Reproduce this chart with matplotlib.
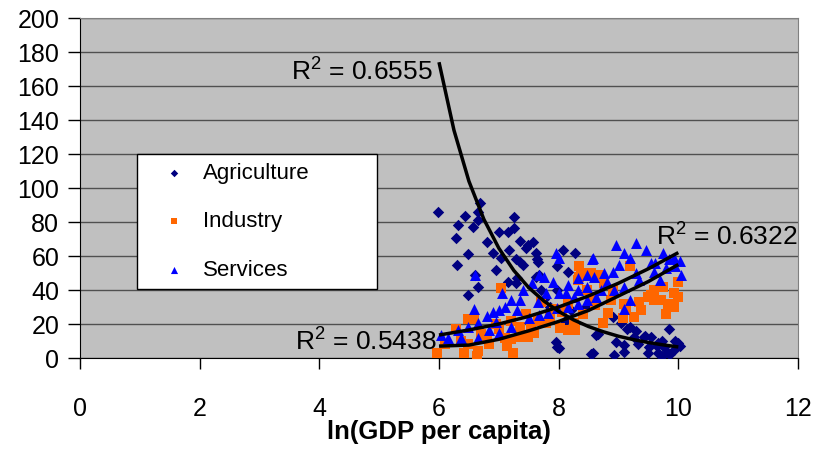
"""
plot.py
Sector shares vs ln(GDP per capita) scatter with trendlines.
Writes out.png (819x450).
"""

import matplotlib

matplotlib.use("Agg")
import matplotlib.pyplot as plt

plt.rcParams["font.family"] = ["Liberation Sans", "DejaVu Sans"]
plt.rcParams["mathtext.fontset"] = "custom"
plt.rcParams["mathtext.rm"] = "Liberation Sans"
plt.rcParams["mathtext.default"] = "regular"

# ---- data ----
agri_x = [5.99, 6.44, 6.31, 6.56, 6.28, 6.49, 6.69, 6.66, 6.66, 6.61, 6.66, 6.81,
          6.90, 7.00, 7.15, 7.03, 7.17, 7.25, 7.36, 7.26, 7.48, 7.57, 7.62, 7.65,
          7.67, 7.36, 7.15, 7.28, 7.45, 7.40, 7.28, 7.63, 7.62, 8.08, 8.28, 7.98,
          8.15, 7.98, 7.95, 7.98, 8.57, 8.92, 9.09, 8.62, 8.90, 9.04, 9.20, 9.26,
          9.42, 9.54, 9.51, 9.84, 9.66, 9.76, 9.92, 9.82, 9.99, 9.66, 9.09, 8.95,
          9.15, 9.30, 9.44, 9.72, 9.94, 8.65, 9.49, 9.72, 9.86, 10.03, 9.64, 9.32,
          8.54, 8.00, 7.31, 7.75, 7.85, 8.20, 8.45, 8.10, 7.70, 6.49, 6.95, 6.30]
agri_y = [86, 83.5, 78, 77, 70.6, 61, 91, 86, 81, 49, 42, 68,
          62, 74, 74, 59, 63.5, 83, 69, 76.5, 66.5, 68, 62, 56.5,
          49, 56.5, 44.7, 44, 65, 55, 58, 58, 47.6, 63.5, 62, 54,
          50.6, 40, 9.4, 6.5, 2.9, 1.8, 3.5, 13.5, 24, 20.6, 18.2, 12.4,
          12.4, 12.4, 6.5, 17, 8.8, 6.5, 4.7, 2.9, 8.8, 2.9, 7.6, 9.4,
          17, 16, 13, 10, 10, 14, 2.9, 1.2, 2.3, 7, 7, 8.2,
          2.3, 5.9, 47, 35, 30, 28, 30, 22, 40, 37, 52, 55]

ind_x = [7.03, 6.48, 6.59, 6.28, 5.97, 6.41, 6.64, 6.66, 6.83, 7.13, 7.11, 7.00,
         7.21, 7.23, 6.36, 6.49, 6.80, 8.34, 8.03, 8.15, 8.28, 8.74, 8.82, 9.07,
         9.26, 9.37, 9.49, 9.59, 9.71, 9.82, 9.92, 9.74, 9.92, 10.00, 9.54, 9.34,
         8.87, 8.59, 8.48, 8.32, 8.54, 8.65, 8.75, 8.37, 8.15, 7.92, 7.78, 7.65,
         7.53, 7.36, 7.33, 7.48, 7.58, 8.25, 9.12, 9.09, 9.20, 8.69, 8.34, 7.85,
         8.05, 8.40, 8.60, 7.45, 7.20, 6.95, 7.70, 8.90, 9.60, 10.00, 9.80, 6.10, 6.70]
ind_y = [41, 23, 23, 17, 2.9, 2.9, 1.2, 4.1, 8.2, 7, 11.8, 17,
         11.2, 2.9, 10, 8.2, 11.8, 54, 17.6, 16.5, 16.5, 20.6, 26.5, 23.5,
         24, 28, 36, 34, 34, 32, 30, 42, 38, 44.7, 37, 33,
         34, 36, 40, 46, 50, 49, 44, 50, 32, 29, 20.6, 22,
         19.4, 18.2, 12.4, 12.4, 14.7, 20.6, 29, 32, 54, 49, 47.6, 24,
         27, 26, 31, 26, 22, 20, 33, 40, 40, 36, 26, 8, 14]

serv_x = [6.61, 7.95, 8.57, 8.95, 9.29, 9.46, 9.09, 9.20, 9.74, 9.92, 10.04, 9.54,
          9.29, 8.90, 8.75, 8.59, 8.32, 8.48, 8.15, 8.00, 8.12, 8.32, 8.48, 8.70,
          8.92, 9.09, 9.20, 9.09, 9.59, 9.79, 7.75, 7.67, 7.78, 7.65, 7.36, 7.20,
          7.11, 7.00, 6.91, 6.81, 6.58, 6.66, 6.48, 6.31, 6.03, 6.36, 6.66, 6.83,
          7.00, 7.20, 7.50, 7.67, 7.82, 7.98, 8.15, 8.32, 8.48, 8.62, 8.00, 8.55,
          9.61, 7.40, 7.55, 7.90, 8.25, 8.80, 9.00, 9.35, 9.70, 9.95, 9.85, 7.05,
          6.95, 7.30, 6.15, 10.02]
serv_y = [49, 62, 59, 66.5, 67.6, 63.5, 62, 59, 62, 59, 49, 56,
          50, 50.6, 50, 47.6, 47, 49, 43, 38, 38, 40, 42, 40,
          40, 42, 34, 29, 50.6, 53, 47.6, 49, 38, 33, 34, 34,
          30, 28, 27, 25, 29, 20.6, 18.2, 16.5, 13.5, 11.8, 11.8, 16.5,
          14.7, 18.2, 23.5, 25.3, 26.5, 29.4, 30, 32, 34, 36, 59, 58,
          55.9, 40, 44, 45, 36, 45, 55, 46, 46, 54, 58, 38,
          21, 28, 12, 57]

# trendlines as traced on the reference
agri_fit_x = [6.0, 6.25, 6.5, 6.75, 7.0, 7.25, 7.5, 7.75, 8.0, 8.25, 8.5,
              8.75, 9.0, 9.25, 9.5, 9.75, 10.0]
agri_fit_y = [174, 134, 104, 81.6, 64.6, 51.5, 41.4, 33.6, 27.4, 22.4, 18.5,
              15.4, 12.8, 10.8, 9.1, 7.7, 6.5]
ind_fit_x = [6.0, 6.5, 7.0, 7.5, 8.0, 8.5, 9.0, 9.5, 10.0]
ind_fit_y = [7, 7.6, 11, 16, 21.5, 28, 36.5, 45, 55]
serv_fit_x = [6.0, 6.5, 7.0, 7.5, 8.0, 8.5, 9.0, 9.5, 10.0]
serv_fit_y = [13.5, 16.5, 20, 24.5, 30, 36.5, 44, 52.5, 62]

r2_labels = ["0.6555", "0.6322", "0.5438"]

fig = plt.figure(figsize=(8.19, 4.5), dpi=100)
ax = fig.add_axes([80 / 819, 1 - 358 / 450, 718 / 819, 340 / 450])
ax.set_facecolor("#c0c0c0")

ax.scatter(agri_x, agri_y, marker="D", s=34, color="#000080", label="Agriculture",
           zorder=3, linewidths=0)
ax.scatter(ind_x, ind_y, marker="s", s=42, color="#ff6600", label="Industry",
           zorder=3, linewidths=0)
ax.scatter(serv_x, serv_y, marker="^", s=62, color="#0000ff", label="Services",
           zorder=3, linewidths=0)

for fx, fy in [(agri_fit_x, agri_fit_y), (ind_fit_x, ind_fit_y), (serv_fit_x, serv_fit_y)]:
    ax.plot(fx, fy, color="black", lw=2.5, zorder=4, solid_capstyle="butt")

ax.text(5.89, 168, "R$^2$ = " + r2_labels[0], ha="right", va="center", fontsize=19, zorder=5)
ax.text(9.62, 71, "R$^2$ = " + r2_labels[1], ha="left", va="center", fontsize=19, zorder=5)
ax.text(5.97, 9.4, "R$^2$ = " + r2_labels[2], ha="right", va="center", fontsize=19, zorder=5)

ax.set_xlim(0, 12)
ax.set_ylim(0, 200)
ax.set_xticks(range(0, 13, 2))
ax.set_yticks(range(0, 201, 20))
ax.yaxis.grid(True, color="#505050", lw=1)
ax.set_axisbelow(True)

ax.tick_params(axis="y", direction="out", length=9, width=1, pad=6, labelsize=18)
ax.tick_params(axis="x", direction="out", length=8, width=1, pad=20, labelsize=18)
for side in ["left", "bottom"]:
    ax.spines[side].set_color("black")
for side in ["top", "right"]:
    ax.spines[side].set_color("#808080")

ax.set_xlabel("ln(GDP per capita)", fontsize=18.5, fontweight="bold", labelpad=-1)

leg = ax.legend(loc="upper left", bbox_to_anchor=(0.079, 0.206, 0.335, 0.394),
                mode="expand", borderaxespad=0, fontsize=16, frameon=True,
                fancybox=False, edgecolor="black", framealpha=1, borderpad=0.4,
                labelspacing=1.23, handlelength=2.6, handletextpad=0.0,
                markerscale=0.65)
leg.get_frame().set_linewidth(1)
leg.set_zorder(6)

fig.savefig("out.png", dpi=100)
